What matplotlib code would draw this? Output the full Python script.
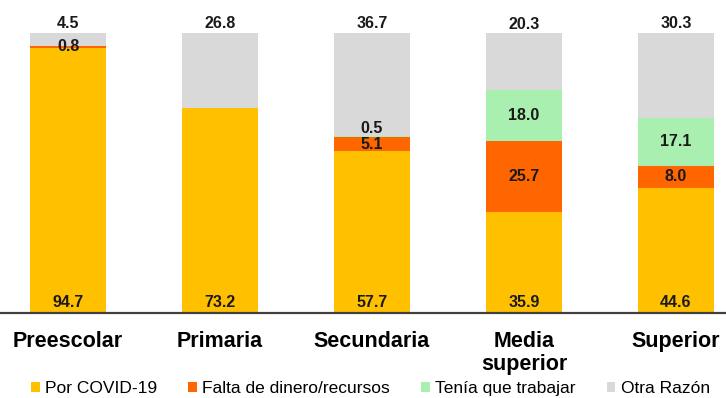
import numpy as np
import matplotlib.pyplot as plt

plt.rcParams['font.family'] = ['Liberation Sans', 'DejaVu Sans']

categorias = ['Preescolar', 'Primaria', 'Secundaria', 'Media\nsuperior', 'Superior']
covid = [94.7, 73.2, 57.7, 35.9, 44.6]
falta = [0.8, 0.0, 5.1, 25.7, 8.0]
trabajar = [0.0, 0.0, 0.5, 18.0, 17.1]
otra = [4.5, 26.8, 36.7, 20.3, 30.3]

series = [covid, falta, trabajar, otra]
nombres = ['Por COVID-19', 'Falta de dinero/recursos', 'Tenía que trabajar', 'Otra Razón']
colores = ['#FFC000', '#FF6600', '#A9EFB0', '#D9D9D9']

fig = plt.figure(figsize=(7.26, 3.98), dpi=100)
ax = fig.add_axes([0, 85 / 398, 1, 280 / 398])

x = np.arange(len(categorias))
base = np.zeros(len(categorias))
for k, (vals, nom, col) in enumerate(zip(series, nombres, colores)):
    vals = np.array(vals)
    ax.bar(x, vals, 0.5, bottom=base, color=col, label=nom)
    for i, v in enumerate(vals):
        if v <= 0:
            continue
        if k == 0:
            y, va = 1.2, 'bottom'
        elif k == 3:
            y, va = base[i] + v + 0.6, 'bottom'
        else:
            y, va = base[i] + v / 2, 'center'
            if v < 1 and k == 2:
                y += 3
        ax.text(x[i], y, f'{v:.1f}', ha='center', va=va, fontsize=11.5,
                fontweight='bold', color='#1a1a1a')
    base += vals

ax.set_xlim(-68 / 152, (726 - 68) / 152)
ax.set_ylim(0, 100)
ax.set_xticks(x)
ax.set_xticklabels(categorias, fontsize=15.5, fontweight='bold', linespacing=1.15)
ax.tick_params(axis='x', length=0, pad=13)
ax.set_yticks([])
for s in ['top', 'right', 'left']:
    ax.spines[s].set_visible(False)
ax.spines['bottom'].set_linewidth(1.6)
ax.spines['bottom'].set_color('#404040')

fig.legend(loc='lower center', ncol=4, frameon=False, fontsize=12.5,
           handlelength=0.5, handleheight=0.5, handletextpad=0.3,
           columnspacing=1.8, bbox_to_anchor=(0.51, -0.035))

fig.savefig('out.png', dpi=100)
